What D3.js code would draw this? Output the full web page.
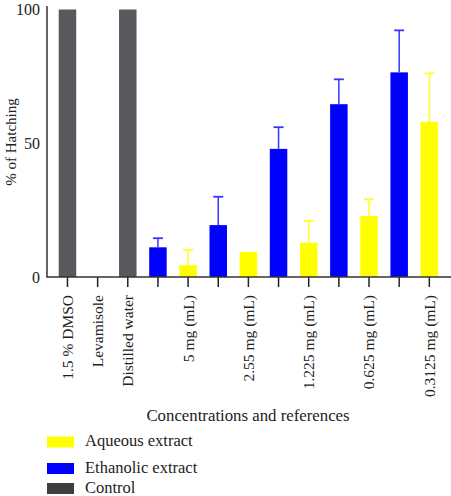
<!DOCTYPE html>
<html>
<head>
<meta charset="utf-8">
<script src="https://cdn.jsdelivr.net/npm/d3@7"></script>
<style>
  html, body { margin: 0; padding: 0; background: #fff; }
  svg { display: block; }
  text { font-family: "Liberation Serif", "DejaVu Serif", serif; fill: #222; }
</style>
</head>
<body>
<svg id="chart" width="451" height="496"></svg>
<script>
// ---- data ----
const categories = ["c1","c2","c3","e1","a1","e2","a2","e3","a3","e4","a4","e5","a5"];
const tickLabels = ["1.5 % DMSO","Levamisole","Distilled water","","5 mg (mL)","","2.55 mg (mL)","","1.225 mg (mL)","","0.625 mg (mL)","","0.3125 mg (mL)"];
const groups = ["Control","Control","Control","Ethanolic","Aqueous","Ethanolic","Aqueous","Ethanolic","Aqueous","Ethanolic","Aqueous","Ethanolic","Aqueous"];
const values = [100, 0, 100, 11.1, 4.4, 19.4, 9.4, 47.9, 12.8, 64.6, 22.8, 76.5, 58.0];
const errors = [0, 0, 0, 3.4, 5.7, 10.6, 0, 8.1, 8.2, 9.3, 6.3, 15.7, 18.1];
const yTicks = [0, 50, 100];
const legendLabels = ["Aqueous extract", "Ethanolic extract", "Control"];
const legendGroups = ["Aqueous", "Ethanolic", "Control"];

const barColor = { Aqueous: "#ffff00", Ethanolic: "#0000ff", Control: "#59585d" };
const errColor = { Aqueous: "#ffff22", Ethanolic: "#3535ff", Control: "#59585d" };
const legendColor = { Aqueous: "#ffff00", Ethanolic: "#0000ff", Control: "#3e3e3e" };
const legendOffsets = [0, 26.5, 46.5];

const svg = d3.select("#chart");

const x = d3.scaleBand().domain(categories).range([52.4, 444.4]).paddingInner(0.42).paddingOuter(0.21);
const y = d3.scaleLinear().domain([0, 100]).range([277, 9.5]);

const data = categories.map((c, i) => ({ c, label: tickLabels[i], g: groups[i], v: values[i], e: errors[i] }));

// bars
svg.append("g").selectAll("rect").data(data.filter(d => d.v > 0)).join("rect")
  .attr("x", d => x(d.c))
  .attr("y", d => y(d.v))
  .attr("width", x.bandwidth())
  .attr("height", d => y(0) - y(d.v))
  .attr("fill", d => barColor[d.g]);

// error bars (upper only)
const eb = svg.append("g").selectAll("g").data(data.filter(d => d.e > 0)).join("g");
eb.append("line")
  .attr("x1", d => x(d.c) + x.bandwidth() / 2)
  .attr("x2", d => x(d.c) + x.bandwidth() / 2)
  .attr("y1", d => y(d.v))
  .attr("y2", d => y(d.v + d.e))
  .attr("stroke", d => errColor[d.g]).attr("stroke-width", 1.5);
eb.append("line")
  .attr("x1", d => x(d.c) + x.bandwidth() / 2 - 5)
  .attr("x2", d => x(d.c) + x.bandwidth() / 2 + 5)
  .attr("y1", d => y(d.v + d.e))
  .attr("y2", d => y(d.v + d.e))
  .attr("stroke", d => errColor[d.g]).attr("stroke-width", 1.8);

// y axis
const yAxis = svg.append("g").attr("transform", "translate(47,0)")
  .call(d3.axisLeft(y).tickValues(yTicks).tickSize(0).tickPadding(7));
yAxis.select(".domain").remove();
yAxis.selectAll("text").style("font-family", "'Liberation Serif', serif").style("font-size", "16px").attr("fill", "#222");
svg.append("line").attr("x1", 47).attr("x2", 47).attr("y1", 6).attr("y2", y(0))
  .attr("stroke", "#333").attr("stroke-width", 1.5);

// x axis
const xAxis = svg.append("g").attr("transform", `translate(0,${y(0)})`)
  .call(d3.axisBottom(x).tickSize(10).tickSizeOuter(0).tickFormat((d, i) => tickLabels[i]));
xAxis.select(".domain").remove();
xAxis.selectAll(".tick line").attr("stroke", "#222").attr("stroke-width", 1.5);
xAxis.selectAll(".tick text")
  .style("font-family", "'Liberation Serif', serif").style("font-size", "15.5px").attr("fill", "#222")
  .attr("transform", "rotate(-90)")
  .attr("text-anchor", "end")
  .attr("x", -18)
  .attr("y", 0)
  .attr("dy", "0.35em");
svg.append("line").attr("x1", 46.25).attr("x2", 451).attr("y1", y(0)).attr("y2", y(0))
  .attr("stroke", "#333").attr("stroke-width", 1.5);

// axis titles
svg.append("text").attr("transform", "translate(16,142) rotate(-90)")
  .attr("text-anchor", "middle").style("font-size", "15px").text("% of Hatching");
svg.append("text").attr("x", 248).attr("y", 421)
  .attr("text-anchor", "middle").style("font-size", "16.8px").text("Concentrations and references");

// legend
const lg = svg.append("g").selectAll("g").data(legendGroups).join("g")
  .attr("transform", (d, i) => `translate(47,${436.5 + legendOffsets[i]})`);
lg.append("rect").attr("width", 27).attr("height", 11).attr("fill", d => legendColor[d]);
lg.append("text").attr("x", 38).attr("y", 9.5).style("font-size", "16.5px").text((d, i) => legendLabels[i]);
</script>
</body>
</html>
